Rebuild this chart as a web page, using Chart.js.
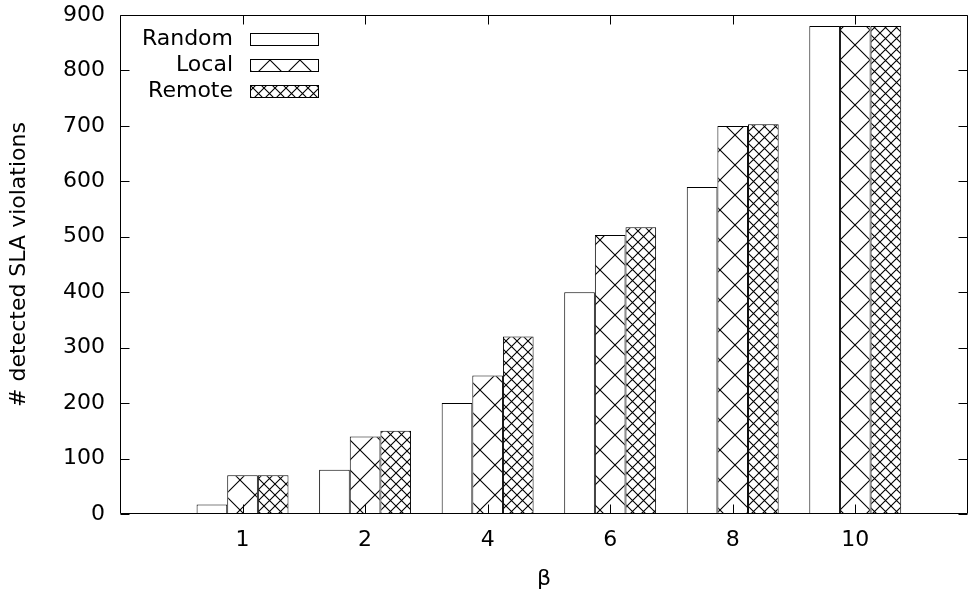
<!DOCTYPE html>
<html>
<head>
<meta charset="utf-8">
<script src="https://cdn.jsdelivr.net/npm/chart.js@4/dist/chart.umd.min.js"></script>
<style>
  html, body { margin: 0; padding: 0; background: #fff; }
  #grafico { display: block; }
</style>
</head>
<body>
<canvas id="grafico" width="969" height="596"></canvas>
<script>
// valores
const betas = ['1', '2', '4', '6', '8', '10'];
const random = [17, 80, 200, 400, 590, 880];
const local = [70, 140, 250, 503, 700, 880];
const remote = [70, 150, 320, 517, 703, 880];
const yTicks = [0, 100, 200, 300, 400, 500, 600, 700, 800, 900];

const FONTE = '"DejaVu Sans", sans-serif';
const TAM = 22;

// hachura cruzada em 45 graus
function criarHachura(p) {
    const c = document.createElement('canvas');
    c.width = p; c.height = p;
    const g = c.getContext('2d');
    g.fillStyle = '#fff';
    g.fillRect(0, 0, p, p);
    g.strokeStyle = '#000';
    g.lineWidth = 1.1;
    for (const k of [-p, 0, p]) {
        g.beginPath();
        g.moveTo(k, 0); g.lineTo(k + p, p);
        g.moveTo(k, p); g.lineTo(k + p, 0);
        g.stroke();
    }
    return document.getElementById('grafico').getContext('2d').createPattern(c, 'repeat');
}

const padraoLocal = criarHachura(30);
const padraoRemote = criarHachura(11);

const series = [
    { nome: 'Random', valores: random, fundo: '#fff' },
    { nome: 'Local', valores: local, fundo: padraoLocal },
    { nome: 'Remote', valores: remote, fundo: padraoRemote }
];

// moldura, marcas para dentro e legenda
const molduraPlugin = {
    id: 'moldura',
    afterDatasetsDraw(chart) {
        const { ctx, chartArea: a, scales } = chart;
        const L = Math.round(a.left) + 0.5, R = Math.round(a.right) - 0.5;
        const T = Math.round(a.top) + 0.5, B = Math.round(a.bottom) - 0.5;
        ctx.save();
        ctx.strokeStyle = '#000';
        ctx.lineWidth = 1;
        ctx.beginPath();
        yTicks.forEach(v => {
            const y = Math.round(scales.y.getPixelForValue(v)) + 0.5;
            ctx.moveTo(L, y); ctx.lineTo(L + 9, y);
            ctx.moveTo(R, y); ctx.lineTo(R - 9, y);
        });
        betas.forEach((b, i) => {
            const x = Math.round(scales.x.getPixelForValue(i)) + 0.5;
            ctx.moveTo(x, B); ctx.lineTo(x, B - 9);
            ctx.moveTo(x, T); ctx.lineTo(x, T + 9);
        });
        ctx.rect(L, T, R - L, B - T);
        ctx.stroke();

        // legenda: texto alinhado à direita, amostra depois
        ctx.font = TAM + 'px ' + FONTE;
        ctx.textAlign = 'right';
        ctx.textBaseline = 'middle';
        series.forEach((s, i) => {
            const yc = 39 + i * 26;
            ctx.fillStyle = '#000';
            ctx.fillText(s.nome, 233, yc);
            ctx.fillStyle = s.fundo;
            ctx.fillRect(250, yc - 6, 68, 12);
            ctx.strokeRect(250.5, yc - 5.5, 68, 12);
        });
        ctx.restore();
    }
};

new Chart(document.getElementById('grafico'), {
    type: 'bar',
    data: {
        datasets: series.map(s => ({
            label: s.nome,
            data: s.valores.map((v, i) => ({ x: i, y: v })),
            backgroundColor: s.fundo,
            borderColor: '#000',
            borderWidth: 1,
            categoryPercentage: 0.75,
            barPercentage: 1
        }))
    },
    options: {
        responsive: false,
        devicePixelRatio: 1,
        animation: false,
        layout: { padding: { top: 15, right: 1, left: 0, bottom: 0 } },
        plugins: { legend: { display: false }, tooltip: { enabled: false } },
        scales: {
            x: {
                type: 'linear',
                offset: false,
                min: -1,
                max: 5.92,
                afterBuildTicks: s => { s.ticks = betas.map((b, i) => ({ value: i })); },
                afterFit: s => { s.height = 82; s.paddingLeft = 0; s.paddingRight = 0; },
                grid: { display: false, drawTicks: false },
                border: { display: false },
                ticks: {
                    autoSkip: false,
                    maxRotation: 0,
                    padding: 13,
                    color: '#000',
                    font: { family: FONTE, size: TAM },
                    callback: v => betas[v]
                },
                title: {
                    display: true,
                    text: 'β',
                    color: '#000',
                    font: { family: FONTE, size: TAM },
                    padding: 4
                }
            },
            y: {
                min: 0,
                max: 900,
                afterBuildTicks: s => { s.ticks = yTicks.map(v => ({ value: v })); },
                afterFit: s => { s.width = 120; s.paddingTop = 0; s.paddingBottom = 0; },
                grid: { display: false, drawTicks: false },
                border: { display: false },
                ticks: {
                    padding: 15,
                    color: '#000',
                    font: { family: FONTE, size: TAM }
                },
                title: {
                    display: true,
                    text: '# detected SLA violations',
                    color: '#000',
                    font: { family: FONTE, size: TAM },
                    padding: { top: 6, bottom: 0 }
                }
            }
        }
    },
    plugins: [molduraPlugin]
});
</script>
</body>
</html>
